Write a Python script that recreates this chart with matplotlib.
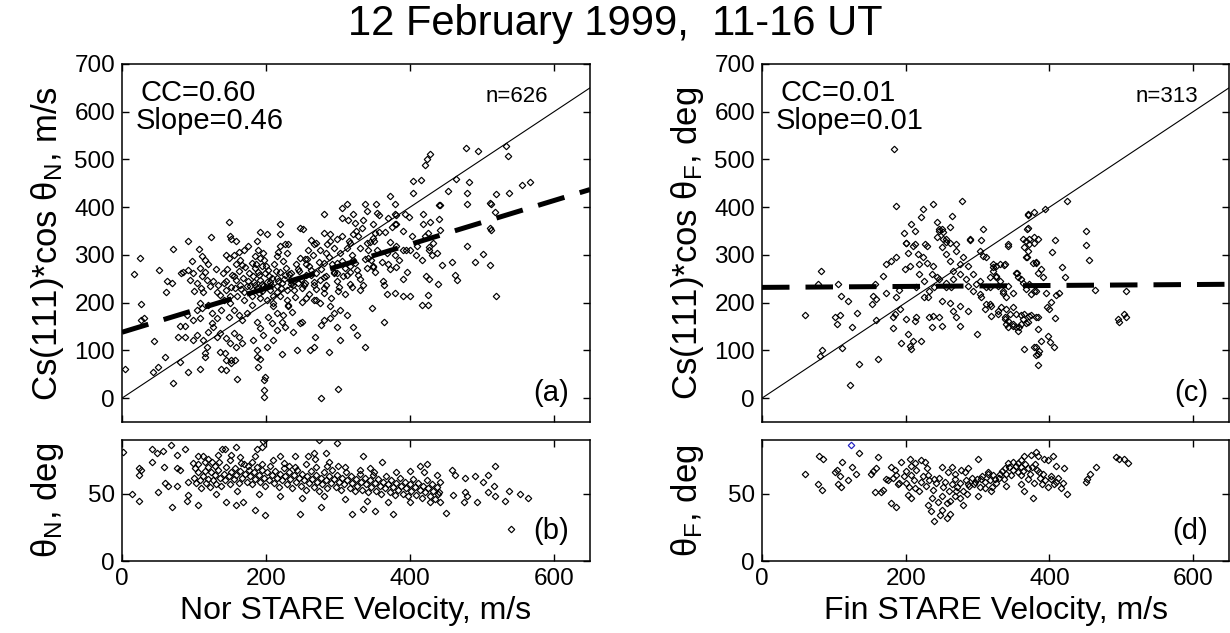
import matplotlib
matplotlib.use("Agg")
import matplotlib.pyplot as plt
import numpy as np

plt.rcParams["font.family"] = ["Liberation Sans", "DejaVu Sans"]
plt.rcParams["mathtext.fontset"] = "custom"
plt.rcParams["mathtext.rm"] = "Liberation Sans"
plt.rcParams["mathtext.it"] = "Liberation Sans"
plt.rcParams["mathtext.default"] = "regular"

# ---- data (velocity m/s, value) ----
nor_cs_pts = [
    (4, 60), (17, 260), (25, 293), (26, 197), (27, 164), (31, 167), (43, 55), (50, 66), (45, 120), (52, 269),
    (60, 87), (61, 223), (62, 245), (69, 241), (71, 312), (80, 76), (78, 129), (80, 151), (87, 151), (87, 129),
    (82, 263), (85, 265), (90, 174), (92, 329), (92, 55), (97, 288), (98, 122), (104, 132), (107, 312), (108, 62),
    (111, 297), (115, 290), (92, 269), (99, 262), (108, 272), (111, 255), (94, 248), (104, 241), (115, 265), (118, 248),
    (122, 234), (113, 223), (108, 199), (111, 188), (113, 122), (115, 94), (118, 108), (115, 87), (123, 338),
    (127, 245), (134, 238), (141, 241), (132, 223), (136, 216), (145, 227), (150, 213), (141, 206), (148, 368), (150, 339),
    (152, 333), (158, 329), (145, 300), (148, 293), (162, 307), (155, 255), (159, 248), (164, 238), (157, 230), (169, 223),
    (173, 234), (164, 290), (166, 279), (150, 199), (155, 185), (162, 174), (166, 164), (173, 178), (148, 171), (138, 185),
    (120, 196), (125, 178), (132, 167), (125, 157), (104, 185), (99, 164), (108, 167), (120, 139), (127, 150), (132, 129),
    (136, 136), (145, 125), (155, 136), (162, 129), (166, 115), (150, 115), (159, 108), (136, 97), (143, 94), (145, 80),
    (152, 80), (157, 80), (138, 62), (145, 59), (152, 73), (160, 41),
    (175, 318), (187, 329), (180, 283), (185, 272), (189, 265), (194, 276), (199, 262), (203, 269), (182, 255), (192, 248),
    (201, 244), (208, 251), (178, 234), (187, 230), (196, 234), (206, 227), (215, 223), (180, 213), (192, 209), (201, 206),
    (210, 213), (189, 311), (196, 305), (192, 293), (191, 347), (201, 343), (219, 343), (226, 322), (231, 322), (219, 318),
    (217, 307), (215, 297), (229, 304), (219, 365), (219, 265), (226, 258), (233, 248), (238, 238), (245, 241), (250, 230),
    (222, 241), (229, 227), (215, 251), (210, 192), (215, 178), (203, 171), (208, 157), (229, 206), (231, 192), (236, 181),
    (224, 174), (222, 160), (226, 150), (187, 160), (192, 146), (196, 132), (182, 122), (201, 108), (187, 101), (215, 143),
    (210, 122), (238, 139), (247, 157), (250, 160), (187, 87), (189, 66), (192, 83), (199, 45), (222, 93), (243, 101),
    (261, 101), (266, 108), (287, 97),
    (247, 357), (251, 354), (247, 294), (254, 291), (259, 311), (266, 322), (280, 385), (280, 346), (289, 343), (263, 332),
    (270, 325), (289, 329), (298, 333), (284, 304), (303, 304), (312, 314), (298, 283), (280, 283), (256, 258), (263, 269),
    (270, 262), (275, 248), (284, 255), (294, 265), (254, 241), (266, 238), (280, 230), (298, 262), (307, 255), (317, 265),
    (328, 258), (340, 272), (349, 276), (256, 209), (266, 206), (275, 199), (289, 192), (303, 185), (312, 174), (289, 167),
    (298, 150), (268, 129), (280, 164), (277, 153), (294, 178), (303, 122), (321, 150), (326, 132), (337, 108), (305, 399),
    (312, 406), (321, 385), (337, 406), (340, 392), (354, 388), (305, 378), (314, 374), (323, 367), (335, 374), (333, 357),
    (321, 343), (328, 339), (349, 336), (351, 346), (317, 325), (331, 314), (340, 325), (342, 294), (321, 290), (317, 276),
    (71, 31), (197, 38), (197, 17), (197, 2), (276, 0), (300, 19),
    (353, 406), (379, 406), (441, 404), (479, 406), (512, 406), (518, 389), (512, 353), (479, 318), (502, 303), (511, 278),
    (490, 285), (520, 214), (393, 385), (399, 380), (418, 385), (428, 368), (440, 376), (379, 385), (379, 364), (349, 364),
    (357, 347), (365, 347), (375, 359), (380, 364), (390, 350), (403, 340), (418, 364), (425, 345), (421, 340), (432, 326),
    (441, 353), (344, 328), (350, 330), (354, 311), (346, 290), (348, 275), (352, 265), (372, 328), (380, 318), (390, 311),
    (400, 311), (368, 305), (379, 300), (395, 311), (410, 318), (408, 300), (417, 290), (361, 286), (370, 280), (372, 270),
    (380, 275), (385, 290), (396, 265), (430, 300), (438, 305), (444, 279), (427, 317), (427, 311), (459, 286), (465, 248),
    (462, 258), (422, 255), (426, 250), (439, 240), (390, 250), (363, 245), (364, 238), (368, 219), (379, 220), (390, 214),
    (400, 214), (425, 216), (417, 196), (425, 196), (347, 189), (364, 160),
    (478, 523), (495, 517), (534, 528), (536, 507), (421, 488), (428, 511), (424, 500), (404, 454), (415, 458), (464, 460),
    (482, 452), (453, 433), (479, 429), (440, 404), (519, 427), (538, 429), (555, 446), (567, 452), (511, 408), (404, 429),
    (372, 423), (357, 383), (369, 378), (380, 383), (511, 357),
    (140, 262), (146, 270), (153, 258), (158, 281), (163, 266), (168, 252), (171, 275), (176, 262), (183, 244), (186, 282),
    (190, 258), (194, 240), (197, 290), (200, 276), (204, 255), (207, 238), (211, 282), (214, 266), (217, 246), (221, 230),
    (224, 288), (228, 272), (232, 260), (235, 240), (239, 226), (242, 280), (246, 266), (249, 250), (253, 236), (257, 292),
    (260, 276), (263, 258), (266, 244), (270, 228), (273, 286), (277, 270), (281, 254), (284, 238), (288, 296), (291, 280),
    (295, 262), (299, 246), (302, 232), (306, 288), (310, 272), (313, 258), (316, 240), (320, 300), (324, 284), (327, 268),
    (331, 250), (335, 236), (338, 292), (342, 310), (160, 215), (170, 205), (180, 196), (190, 220), (200, 232), (210, 200),
    (220, 214), (230, 196), (240, 212), (250, 202), (260, 218), (270, 206), (280, 220), (290, 210), (300, 224), (310, 218),
    (320, 232), (330, 226), (145, 245), (152, 232), (165, 228), (175, 246), (185, 236), (195, 225), (205, 244), (215, 235),
    (225, 250), (235, 262), (245, 270), (255, 282), (265, 300), (275, 310), (285, 322), (295, 315), (305, 340), (315, 330),
    (325, 350), (155, 300), (170, 310), (185, 298), (130, 270), (120, 280), (110, 230), (100, 225),
]

nor_theta_pts = [
    (1, 81), (14, 50), (23, 45), (23, 64), (26, 68), (24, 69), (41, 83), (48, 80), (42, 74), (57, 82),
    (50, 51), (68, 86), (59, 70), (60, 58), (64, 56), (76, 79), (77, 69), (81, 68), (76, 56), (69, 40),
    (88, 83), (92, 59), (92, 49), (90, 45), (98, 73), (101, 69), (106, 78), (113, 78), (105, 42), (115, 74),
    (120, 70), (125, 74), (129, 71), (134, 79), (139, 83), (143, 83), (152, 79), (158, 85), (164, 77), (175, 71),
    (185, 78), (187, 83), (194, 85), (196, 89), (199, 91), (145, 44), (159, 42), (168, 44), (185, 38), (199, 34),
    (220, 78), (240, 78), (232, 71), (258, 78), (266, 80), (268, 76), (284, 80), (274, 90), (298, 88), (247, 35),
    (277, 40), (287, 74), (300, 71), (335, 78), (344, 69), (361, 74), (319, 35), (335, 39), (351, 37), (377, 35),
    (414, 71), (423, 72), (437, 64), (458, 68), (463, 64), (450, 36), (477, 62), (490, 63), (501, 59), (509, 64),
    (518, 71), (516, 56), (509, 51), (518, 48), (537, 52), (532, 45), (553, 50), (564, 47), (476, 51), (479, 48),
    (475, 44), (493, 44), (460, 49), (440, 51), (428, 44), (441, 44), (540, 24),
    (100, 62), (103, 58), (105, 66), (108, 60), (110, 54), (112, 63), (115, 67), (117, 58), (120, 61), (122, 55),
    (124, 66), (127, 60), (129, 64), (131, 57), (134, 68), (136, 62), (138, 56), (141, 65), (143, 60), (145, 70),
    (148, 63), (150, 57), (152, 66), (155, 61), (157, 69), (159, 64), (162, 58), (164, 67), (166, 62), (169, 72),
    (171, 65), (173, 59), (176, 68), (178, 63), (180, 57), (183, 66), (185, 61), (187, 70), (190, 64), (192, 59),
    (194, 68), (197, 62), (199, 56), (201, 66), (204, 60), (206, 71), (208, 64), (211, 58), (213, 67), (215, 62),
    (218, 55), (220, 65), (222, 60), (225, 69), (227, 63), (229, 57), (232, 66), (234, 61), (236, 54), (239, 64),
    (241, 59), (243, 68), (246, 62), (248, 56), (250, 65), (253, 60), (255, 53), (257, 63), (260, 58), (262, 67),
    (264, 61), (267, 55), (269, 64), (271, 59), (274, 52), (276, 62), (278, 57), (281, 66), (283, 60), (285, 54),
    (288, 63), (290, 58), (292, 68), (295, 61), (297, 55), (299, 64), (302, 59), (304, 53), (306, 62), (309, 57),
    (311, 66), (313, 60), (316, 54), (318, 63), (320, 58), (323, 52), (325, 61), (327, 56), (330, 65), (332, 59),
    (334, 53), (337, 62), (339, 57), (341, 51), (344, 60), (346, 55), (348, 64), (351, 58), (353, 52), (355, 61),
    (358, 56), (360, 50), (362, 59), (365, 54), (367, 63), (369, 57), (372, 51), (374, 60), (376, 55), (379, 49),
    (381, 58), (383, 53), (386, 62), (388, 56), (390, 50), (393, 59), (395, 54), (397, 48), (400, 57), (402, 52),
    (404, 61), (407, 55), (409, 49), (411, 58), (414, 53), (416, 47), (418, 56), (421, 51), (423, 60), (425, 54),
    (428, 48), (430, 57), (432, 52), (435, 46), (437, 55), (439, 50), (442, 59),
    (105, 72), (120, 76), (135, 74), (150, 75), (165, 73), (180, 74), (195, 72), (210, 75), (225, 73), (240, 70),
    (255, 72), (270, 70), (285, 71), (130, 50), (160, 52), (190, 50), (220, 48), (250, 47), (280, 48), (310, 46),
    (340, 45), (370, 44), (400, 44), (310, 70), (330, 68), (350, 66), (380, 66), (400, 67), (420, 66),
]

fin_cs_pts = [
    (184, 521), (187, 402), (278, 414), (224, 397), (238, 406), (222, 379), (208, 364), (213, 351), (197, 346), (243, 369),
    (247, 351), (250, 355), (261, 358), (265, 381), (201, 325), (213, 323), (227, 323), (252, 334), (256, 327), (270, 323),
    (289, 332), (305, 332), (308, 355), (370, 385), (378, 390), (369, 355), (363, 334), (372, 334), (379, 337), (342, 322),
    (60, 174), (82, 267), (78, 239), (81, 88), (84, 100), (101, 170), (108, 174), (104, 155), (106, 240), (110, 214),
    (120, 204), (112, 104), (123, 27), (125, 148), (132, 179), (135, 72), (154, 214), (157, 239), (153, 197), (159, 207),
    (158, 164), (162, 81), (169, 256), (173, 221), (172, 281), (180, 288), (187, 295), (182, 169), (185, 176), (192, 186),
    (182, 146), (187, 211), (191, 226), (194, 116), (203, 134), (208, 102), (210, 120), (206, 109), (222, 120), (201, 165),
    (213, 162), (215, 169), (201, 326), (203, 305), (210, 319), (199, 270), (206, 277), (217, 302), (224, 295), (229, 319),
    (218, 281), (219, 260), (226, 246), (215, 232), (229, 284), (238, 277), (236, 260), (243, 253), (240, 232), (231, 211),
    (226, 211), (233, 225), (243, 337), (247, 354), (252, 347), (256, 333), (250, 316), (261, 326), (256, 302), (261, 288),
    (270, 309), (266, 267), (275, 281), (280, 295), (287, 277), (247, 249), (256, 242), (266, 249), (263, 232), (256, 232),
    (250, 204), (261, 200), (266, 183), (275, 193), (270, 169), (233, 169), (238, 172), (236, 148), (247, 169), (250, 151),
    (275, 151), (287, 183), (299, 134), (275, 260), (284, 249), (294, 260), (287, 235), (298, 239), (303, 246), (294, 225),
    (303, 218), (312, 232), (289, 333), (303, 309), (307, 298), (312, 296), (321, 281), (331, 281), (338, 281), (305, 211),
    (312, 197), (319, 193), (310, 186), (328, 183), (340, 186), (321, 267), (326, 256), (331, 246), (328, 235), (335, 225),
    (342, 235), (349, 221), (342, 319), (354, 263), (356, 253), (363, 242), (368, 228), (338, 169), (342, 162), (342, 148),
    (349, 155), (354, 148), (356, 141), (363, 165), (368, 158), (349, 190), (354, 176), (368, 295), (370, 309), (372, 323),
    (368, 330), (379, 326), (384, 333), (382, 284), (384, 263), (382, 225), (382, 169), (384, 144), (365, 102), (382, 107),
    (384, 92), (384, 69),
    (425, 414), (394, 397), (370, 384), (370, 356), (364, 316), (404, 307), (408, 331), (451, 350), (451, 321), (455, 289),
    (369, 296), (377, 284), (381, 286), (326, 277), (321, 274), (337, 279), (317, 253), (326, 253), (355, 263), (361, 249),
    (371, 239), (388, 270), (391, 253), (375, 219), (378, 225), (395, 221), (418, 274), (422, 253), (414, 221), (409, 217),
    (336, 221), (340, 211), (317, 232), (317, 197), (319, 172), (328, 176), (333, 191), (345, 176), (338, 165), (361, 174),
    (365, 176), (372, 172), (375, 174), (340, 156), (349, 151), (358, 148), (361, 155), (397, 191), (399, 186), (402, 202),
    (408, 167), (370, 160), (384, 169), (379, 107), (386, 99), (381, 90), (388, 120), (398, 130), (401, 118), (406, 107),
    (495, 165), (497, 160), (504, 176), (506, 171), (464, 226), (507, 224),
]

fin_theta_pts = [
    (60, 65), (80, 78), (85, 76), (78, 57), (83, 53), (101, 66), (104, 68), (108, 63), (112, 74), (106, 57),
    (110, 55), (120, 60), (125, 70), (131, 65), (135, 80), (152, 65), (155, 67), (158, 69), (162, 77), (157, 51),
    (166, 51), (169, 53), (173, 61), (180, 70), (185, 68), (187, 64), (194, 74), (189, 57), (180, 43), (187, 40),
    (206, 76), (208, 71), (213, 73), (222, 75), (227, 74), (208, 64), (201, 58), (203, 49), (208, 47), (213, 54),
    (222, 59), (231, 64), (240, 61), (250, 70), (259, 66), (268, 65), (277, 68), (287, 69), (300, 76), (231, 42),
    (236, 47), (245, 44), (250, 38), (257, 43), (261, 35), (268, 48), (275, 47), (280, 42), (270, 52), (287, 57),
    (296, 59), (305, 61), (315, 65), (310, 54), (319, 52), (324, 61), (331, 65), (338, 69), (342, 73), (349, 74),
    (356, 73), (361, 75), (365, 78), (375, 79), (382, 81), (384, 78), (393, 76), (398, 75), (405, 78), (409, 71),
    (421, 69), (361, 64), (370, 61), (379, 58), (386, 66), (391, 65), (402, 61), (409, 59), (419, 58), (425, 50),
    (377, 47), (365, 52), (451, 59), (453, 61), (456, 65), (465, 70), (493, 77), (497, 76), (504, 76), (509, 73),
    (235, 37), (248, 34), (258, 32), (240, 30),
    (175, 60), (182, 62), (190, 58), (198, 63), (205, 55), (212, 60), (218, 52), (224, 63), (228, 56), (233, 60),
    (238, 53), (242, 58), (246, 62), (252, 55), (255, 59), (260, 52), (264, 57), (268, 61), (272, 55), (276, 58),
    (280, 52), (284, 60), (288, 56), (292, 62), (295, 57), (299, 61), (303, 55), (306, 63), (310, 59), (314, 66),
    (318, 60), (322, 64), (326, 58), (330, 62), (334, 67), (337, 61), (340, 65), (344, 70), (347, 64), (350, 68),
    (354, 71), (357, 66), (360, 70), (363, 67), (366, 72), (370, 69), (373, 65), (376, 70), (380, 72), (383, 68),
    (387, 62), (390, 57), (394, 60), (398, 55), (402, 63), (406, 57), (412, 62), (416, 54), (250, 48), (262, 45),
    (286, 50), (300, 48), (320, 55), (340, 56), (360, 57), (200, 67), (215, 68), (230, 69), (265, 70), (282, 66),
]

fin_theta_flag = [(124, 86)]

nor_fit = (138, 0.46)   # intercept, slope
fin_fit = (232, 0.01)
nor_stats = ("CC=0.60", "Slope=0.46", "n=626")
fin_stats = ("CC=0.01", "Slope=0.01", "n=313")

W, H = 1230, 633
fig = plt.figure(figsize=(W / 100, H / 100), dpi=100)


def box(l, t, r, b):
    return [l / W, 1 - b / H, (r - l) / W, (b - t) / H]


def style(ax):
    ax.tick_params(direction="in", length=5, width=1, top=True, right=True,
                   labelsize=17.5, pad=5)
    for s in ax.spines.values():
        s.set_linewidth(1.1)


def scatter(ax, pts, color="black"):
    x, y = np.array(pts, dtype=float).T
    ax.plot(x, y, linestyle="none", marker="D", markersize=3.3,
            markerfacecolor="none", markeredgecolor=color, markeredgewidth=0.85)


xmax = 650
xs = np.array([0, xmax])

panels = [
    (122, 590, nor_cs_pts, nor_theta_pts, None, nor_fit, nor_stats, 0.91,
     "Cs(111)*cos \u03b8$_N$, m/s", "\u03b8$_N$, deg", "Nor STARE Velocity, m/s", ("(a)", "(b)")),
    (762, 1229, fin_cs_pts, fin_theta_pts, fin_theta_flag, fin_fit, fin_stats, 0.935,
     "Cs(111)*cos \u03b8$_F$, deg", "\u03b8$_F$, deg", "Fin STARE Velocity, m/s", ("(c)", "(d)")),
]

for left, right, cs_pts, th_pts, flag, fit, stats, n_x, ylab_top, ylab_bot, xlab, tags in panels:
    ax = fig.add_axes(box(left, 64, right, 422))
    scatter(ax, cs_pts)
    ax.plot(xs, xs, color="black", linewidth=0.8)
    ax.plot(xs, fit[0] + fit[1] * xs, color="black", linewidth=3.6,
            linestyle=(0, (5.5, 3.2)), dash_capstyle="butt")
    ax.set_xlim(0, xmax)
    ax.set_ylim(-50, 700)
    ax.set_xticks([0, 200, 400, 600])
    ax.set_xticklabels([])
    ax.set_yticks(range(0, 701, 100))
    style(ax)
    ax.set_ylabel(ylab_top, fontsize=25)
    ax.yaxis.set_label_coords(-0.12, 0.5)
    ax.text(0.04, 0.92, stats[0], transform=ax.transAxes, fontsize=21, va="center")
    ax.text(0.03, 0.84, stats[1], transform=ax.transAxes, fontsize=21, va="center")
    ax.text(n_x, 0.91, stats[2], transform=ax.transAxes, fontsize=16, va="center", ha="right")
    ax.text(0.955, 0.08, tags[0], transform=ax.transAxes, fontsize=21, va="center", ha="right")

    axb = fig.add_axes(box(left, 440, right, 561))
    scatter(axb, th_pts)
    if flag:
        scatter(axb, flag, color="#2020c0")
    axb.set_xlim(0, xmax)
    axb.set_ylim(0, 90)
    axb.set_xticks([0, 200, 400, 600])
    axb.set_yticks([0, 50])
    style(axb)
    axb.set_ylabel(ylab_bot, fontsize=25)
    axb.yaxis.set_label_coords(-0.12, 0.5)
    axb.set_xlabel(xlab, fontsize=23, labelpad=4)
    axb.text(0.955, 0.25, tags[1], transform=axb.transAxes, fontsize=21, va="center", ha="right")

fig.text(0.5, 0.962, "12 February 1999,  11-16 UT", ha="center", va="center", fontsize=30)

fig.savefig("out.png", dpi=100)
